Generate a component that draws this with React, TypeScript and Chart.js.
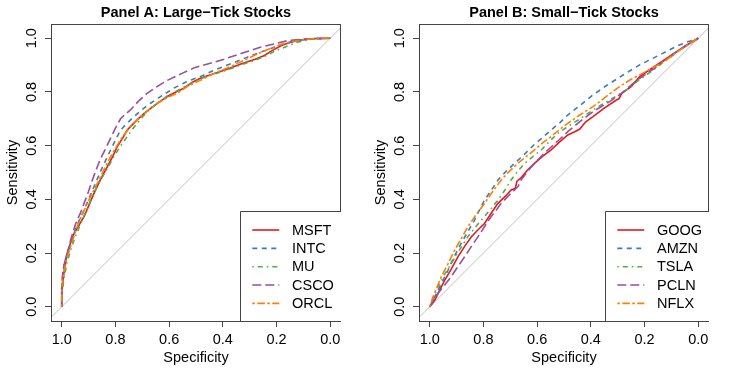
import React, { useEffect, useRef } from "react";
import { Chart, registerables } from "chart.js";

Chart.register(...registerables);

// ---------- data: [specificity, sensitivity] ----------
const msft = [[1,0],[1,0.05],[0.995,0.1],[0.99,0.14],[0.979,0.2],[0.965,0.245],[0.954,0.273],[0.935,0.305],[0.917,0.336],[0.9,0.375],[0.88,0.422],[0.855,0.475],[0.83,0.522],[0.81,0.56],[0.793,0.597],[0.775,0.625],[0.756,0.658],[0.735,0.68],[0.719,0.696],[0.695,0.718],[0.669,0.739],[0.64,0.76],[0.607,0.783],[0.575,0.8],[0.545,0.814],[0.515,0.835],[0.484,0.851],[0.44,0.866],[0.382,0.885],[0.33,0.905],[0.28,0.922],[0.245,0.936],[0.22,0.952],[0.184,0.972],[0.15,0.984],[0.12,0.992],[0.06,0.999],[0,1]];
const intc = [[1,0],[1,0.07],[0.996,0.12],[0.991,0.16],[0.98,0.2],[0.967,0.236],[0.945,0.3],[0.917,0.36],[0.9,0.4],[0.88,0.447],[0.855,0.505],[0.83,0.559],[0.805,0.61],[0.781,0.658],[0.755,0.685],[0.731,0.708],[0.7,0.735],[0.669,0.758],[0.625,0.787],[0.583,0.814],[0.535,0.838],[0.484,0.857],[0.43,0.882],[0.357,0.91],[0.29,0.937],[0.221,0.962],[0.18,0.977],[0.135,0.99],[0.07,0.998],[0,1]];
const mu = [[1,0],[1,0.04],[0.995,0.08],[0.991,0.112],[0.98,0.165],[0.967,0.211],[0.95,0.26],[0.929,0.31],[0.91,0.355],[0.892,0.397],[0.875,0.435],[0.855,0.472],[0.83,0.515],[0.806,0.559],[0.78,0.6],[0.756,0.634],[0.738,0.66],[0.719,0.683],[0.695,0.712],[0.669,0.739],[0.64,0.76],[0.607,0.785],[0.575,0.802],[0.545,0.818],[0.484,0.85],[0.44,0.864],[0.382,0.882],[0.33,0.902],[0.28,0.918],[0.245,0.932],[0.2,0.955],[0.153,0.973],[0.12,0.986],[0.07,0.996],[0,1]];
const csco = [[1,0],[1,0.08],[0.996,0.13],[0.988,0.17],[0.979,0.2],[0.965,0.255],[0.948,0.31],[0.93,0.35],[0.917,0.385],[0.9,0.43],[0.886,0.472],[0.87,0.515],[0.855,0.553],[0.835,0.592],[0.818,0.628],[0.8,0.665],[0.781,0.7],[0.762,0.718],[0.744,0.733],[0.715,0.765],[0.682,0.795],[0.645,0.82],[0.607,0.843],[0.55,0.87],[0.506,0.89],[0.45,0.906],[0.395,0.922],[0.33,0.944],[0.258,0.967],[0.2,0.981],[0.159,0.991],[0.1,0.997],[0,1]];
const orcl = [[1,0],[1,0.05],[0.998,0.087],[0.99,0.14],[0.979,0.187],[0.96,0.245],[0.942,0.3],[0.925,0.34],[0.905,0.385],[0.88,0.435],[0.855,0.485],[0.836,0.525],[0.818,0.559],[0.8,0.59],[0.781,0.622],[0.762,0.648],[0.744,0.671],[0.725,0.69],[0.707,0.708],[0.675,0.735],[0.645,0.758],[0.605,0.78],[0.57,0.795],[0.53,0.822],[0.484,0.843],[0.43,0.87],[0.382,0.89],[0.32,0.918],[0.258,0.948],[0.184,0.977],[0.13,0.99],[0.07,0.998],[0,1]];

const goog = [[1,0],[0.99,0.012],[0.981,0.025],[0.963,0.062],[0.944,0.099],[0.92,0.14],[0.895,0.186],[0.87,0.225],[0.845,0.261],[0.82,0.287],[0.796,0.31],[0.77,0.35],[0.746,0.385],[0.72,0.41],[0.697,0.435],[0.682,0.44],[0.675,0.468],[0.66,0.48],[0.635,0.51],[0.61,0.534],[0.58,0.56],[0.548,0.584],[0.515,0.615],[0.486,0.64],[0.46,0.652],[0.441,0.662],[0.42,0.688],[0.392,0.708],[0.35,0.74],[0.305,0.77],[0.295,0.775],[0.285,0.795],[0.25,0.82],[0.218,0.857],[0.17,0.89],[0.107,0.932],[0.05,0.97],[0,1]];
const amzn = [[1,0],[0.985,0.03],[0.969,0.062],[0.95,0.1],[0.932,0.136],[0.91,0.185],[0.883,0.236],[0.858,0.28],[0.833,0.323],[0.815,0.36],[0.796,0.397],[0.77,0.435],[0.746,0.472],[0.715,0.505],[0.684,0.534],[0.645,0.57],[0.61,0.605],[0.58,0.63],[0.548,0.658],[0.516,0.685],[0.486,0.714],[0.44,0.75],[0.392,0.789],[0.34,0.825],[0.28,0.863],[0.22,0.9],[0.169,0.925],[0.12,0.95],[0.07,0.975],[0.03,0.99],[0,1]];
const tsla = [[1,0],[0.985,0.035],[0.969,0.075],[0.945,0.12],[0.92,0.161],[0.89,0.21],[0.858,0.261],[0.827,0.3],[0.796,0.336],[0.77,0.368],[0.746,0.397],[0.72,0.435],[0.697,0.472],[0.672,0.505],[0.647,0.534],[0.615,0.56],[0.585,0.584],[0.55,0.62],[0.52,0.648],[0.486,0.671],[0.44,0.7],[0.392,0.733],[0.33,0.77],[0.268,0.807],[0.22,0.845],[0.181,0.872],[0.13,0.91],[0.07,0.955],[0.03,0.98],[0,1]];
const pcln = [[1,0],[0.985,0.025],[0.969,0.05],[0.945,0.08],[0.92,0.112],[0.895,0.15],[0.87,0.186],[0.845,0.225],[0.82,0.261],[0.795,0.3],[0.771,0.336],[0.752,0.36],[0.734,0.385],[0.71,0.41],[0.684,0.435],[0.67,0.45],[0.66,0.472],[0.635,0.505],[0.61,0.534],[0.58,0.565],[0.548,0.595],[0.52,0.62],[0.486,0.652],[0.44,0.69],[0.392,0.727],[0.34,0.758],[0.293,0.789],[0.25,0.825],[0.218,0.851],[0.16,0.89],[0.107,0.932],[0.05,0.97],[0,1]];
const nflx = [[1,0],[0.988,0.037],[0.972,0.075],[0.957,0.112],[0.932,0.16],[0.907,0.211],[0.882,0.255],[0.858,0.298],[0.826,0.345],[0.796,0.385],[0.765,0.43],[0.734,0.472],[0.703,0.505],[0.672,0.534],[0.64,0.56],[0.61,0.584],[0.58,0.61],[0.548,0.634],[0.516,0.66],[0.486,0.683],[0.44,0.715],[0.392,0.745],[0.34,0.785],[0.293,0.82],[0.25,0.847],[0.206,0.87],[0.16,0.895],[0.119,0.919],[0.07,0.955],[0.03,0.98],[0,1]];

const labelsA = ["MSFT", "INTC", "MU", "CSCO", "ORCL"];
const labelsB = ["GOOG", "AMZN", "TSLA", "PCLN", "NFLX"];
const seriesA = [msft, intc, mu, csco, orcl];
const seriesB = [goog, amzn, tsla, pcln, nflx];
const tickValues = [0, 0.2, 0.4, 0.6, 0.8, 1.0];

const colors = ["#E41A1C", "#377EB8", "#4DAF4A", "#984EA3", "#FF7F00"];
const dashes = [[], [5, 4.5], [1.5, 4, 5, 4], [9, 4], [2.5, 2.5, 7.5, 2.5]];

const FONT = '"Liberation Sans", Arial, Helvetica, sans-serif';
const FS = 14.5;

type PanelProps = {
  title: string;
  labels: string[];
  series: number[][][];
  width: number;
  left: number;
  right: number;
};

const TOP = 24;
const BOTTOM = 321;
const H = 373;

function Panel({ title, labels, series, width, left, right }: PanelProps) {
  const ref = useRef<HTMLCanvasElement | null>(null);
  useEffect(() => {
    if (!ref.current) return;
    const datasets: any[] = series.map((s, i) => ({
      label: labels[i],
      data: s.map((p) => ({ x: p[0], y: p[1] })),
      borderColor: colors[i],
      borderWidth: 1.6,
      borderDash: dashes[i],
      pointRadius: 0,
      tension: 0,
      fill: false,
      order: 5 - i,
      isCurve: true,
    }));
    datasets.push({
      label: "diag",
      data: [{ x: -0.2, y: 1.2 }, { x: 1.2, y: -0.2 }],
      borderColor: "#BEBEBE",
      borderWidth: 1,
      pointRadius: 0,
      fill: false,
      order: 10,
      isCurve: false,
    });

    const textPlugin = {
      id: "rtext",
      afterDraw(chart: any) {
        const ctx = chart.ctx;
        const ca = chart.chartArea;
        const xs = chart.scales.x;
        const ys = chart.scales.y;
        ctx.save();
        // box
        ctx.strokeStyle = "#444";
        ctx.lineWidth = 1;
        ctx.setLineDash([]);
        ctx.strokeRect(ca.left + 0.5, ca.top + 0.5, ca.right - ca.left - 1, ca.bottom - ca.top);
        ctx.fillStyle = "#000";
        ctx.font = `${FS}px ${FONT}`;
        ctx.textAlign = "center";
        ctx.textBaseline = "middle";
        // x tick labels
        xs.ticks.forEach((t: any) => {
          ctx.fillText(t.value.toFixed(1), xs.getPixelForValue(t.value), 340);
        });
        // y tick labels rotated
        ys.ticks.forEach((t: any) => {
          ctx.save();
          ctx.translate(ca.left - 19.5, ys.getPixelForValue(t.value));
          ctx.rotate(-Math.PI / 2);
          ctx.fillText(t.value.toFixed(1), 0, 0);
          ctx.restore();
        });
        const cx = (ca.left + ca.right) / 2;
        const cy = (ca.top + ca.bottom) / 2;
        ctx.fillText("Specificity", cx, 358);
        ctx.save();
        ctx.translate(ca.left - 38, cy);
        ctx.rotate(-Math.PI / 2);
        ctx.fillText("Sensitivity", 0, 0);
        ctx.restore();
        // title
        ctx.font = `bold ${FS}px ${FONT}`;
        ctx.fillText(title, cx, 12.5);
        // legend
        ctx.font = `${FS}px ${FONT}`;
        const curves = chart.data.datasets.filter((d: any) => d.isCurve);
        let maxW = 0;
        curves.forEach((d: any) => { maxW = Math.max(maxW, ctx.measureText(d.label).width); });
        const bRight = ca.right;
        const bBottom = ca.bottom;
        const bTop = bBottom - 110;
        const bLeft = Math.round(bRight - (52 + maxW + 7));
        ctx.fillStyle = "#fff";
        ctx.fillRect(bLeft, bTop, bRight - bLeft, bBottom - bTop);
        ctx.strokeStyle = "#444";
        ctx.lineWidth = 1;
        ctx.beginPath();
        ctx.moveTo(bLeft + 0.5, bBottom);
        ctx.lineTo(bLeft + 0.5, bTop + 0.5);
        ctx.lineTo(bRight, bTop + 0.5);
        ctx.stroke();
        ctx.textAlign = "left";
        ctx.fillStyle = "#000";
        curves.forEach((d: any, i: number) => {
          const y = bTop + 19 + i * 18.35;
          ctx.strokeStyle = d.borderColor;
          ctx.lineWidth = 1.6;
          ctx.setLineDash(d.borderDash || []);
          ctx.beginPath();
          ctx.moveTo(bLeft + 12.3, y);
          ctx.lineTo(bLeft + 39.3, y);
          ctx.stroke();
          ctx.setLineDash([]);
          ctx.fillText(d.label, bLeft + 52, y + 0.5);
        });
        ctx.restore();
      },
    };

    const setTicks = (s: any) => {
      s.ticks = tickValues.map((v) => ({ value: v }));
    };

    const chart = new Chart(ref.current, {
      type: "line",
      data: { datasets },
      options: {
        responsive: false,
        animation: false,
        events: [],
        layout: { padding: { left: 0, right: width - right, top: TOP, bottom: 0 } },
        plugins: { legend: { display: false }, tooltip: { enabled: false }, title: { display: false } },
        scales: {
          x: {
            type: "linear",
            reverse: true,
            min: -0.04,
            max: 1.04,
            afterBuildTicks: setTicks,
            afterFit: (s: any) => { s.height = H - BOTTOM; },
            ticks: { display: false },
            grid: { drawOnChartArea: false, drawTicks: true, tickLength: 6, color: "#444", lineWidth: 1 },
            border: { display: false },
          },
          y: {
            type: "linear",
            min: -0.053,
            max: 1.053,
            afterBuildTicks: setTicks,
            afterFit: (s: any) => { s.width = left; },
            ticks: { display: false },
            grid: { drawOnChartArea: false, drawTicks: true, tickLength: 6, color: "#444", lineWidth: 1 },
            border: { display: false },
          },
        },
      } as any,
      plugins: [textPlugin],
    });
    return () => chart.destroy();
  }, []);
  return <canvas ref={ref} width={width} height={H} style={{ display: "block", width, height: H }} />;
}

export default function App() {
  return (
    <div style={{ position: "absolute", left: 0, top: 0, width: 747, height: H, display: "flex", background: "#fff" }}>
      <Panel title="Panel A: Large−Tick Stocks" labels={labelsA} series={seriesA} width={373} left={51} right={341} />
      <Panel title="Panel B: Small−Tick Stocks" labels={labelsB} series={seriesB} width={374} left={46} right={336} />
    </div>
  );
}
